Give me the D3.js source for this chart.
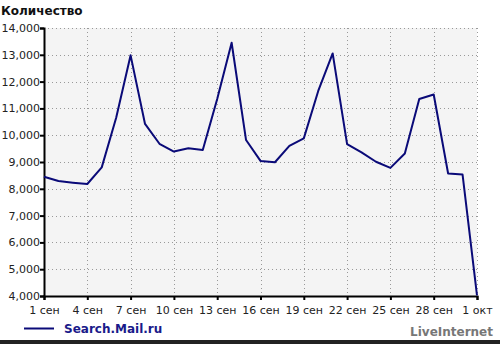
<!DOCTYPE html>
<html>
<head>
<meta charset="utf-8">
<script src="https://cdn.jsdelivr.net/npm/d3@7"></script>
<style>
  body { margin: 0; background: #fff; }
  svg { display: block; font-family: "DejaVu Sans", Verdana, sans-serif; }
</style>
</head>
<body>
<div id="chart"></div>
<script>
// daily values, 1 сен .. 1 окт
const days = d3.range(0, 31);
const values = [8450, 8290, 8230, 8180, 8800, 10650, 12980, 10420, 9680, 9390,
                9510, 9450, 11350, 13450, 9820, 9040, 8990, 9600, 9880, 11650,
                13050, 9670, 9360, 9010, 8780, 9320, 11350, 11520, 8570, 8530, 4020];
const tickDays = [0, 3, 6, 9, 12, 15, 18, 21, 24, 27, 30];
const tickLabels = ['1 сен', '4 сен', '7 сен', '10 сен', '13 сен', '16 сен',
                    '19 сен', '22 сен', '25 сен', '28 сен', '1 окт'];
const yTicks = [4000, 5000, 6000, 7000, 8000, 9000, 10000, 11000, 12000, 13000, 14000];
const seriesName = 'Search.Mail.ru';

const W = 500, H = 344;
const margin = { top: 28, right: 23, bottom: 48, left: 44 };
const width = W - margin.left - margin.right;
const height = H - margin.top - margin.bottom;

const svg = d3.select('#chart').append('svg')
    .attr('width', W)
    .attr('height', H);

// bottom dark border
svg.append('rect')
    .attr('x', 0).attr('y', H - 4).attr('width', W).attr('height', 4)
    .attr('fill', '#222');

svg.append('text')
    .attr('x', 1).attr('y', 15)
    .attr('font-size', 12).attr('font-weight', 'bold')
    .attr('fill', '#111')
    .text('Количество');

const g = svg.append('g')
    .attr('transform', `translate(${margin.left}, ${margin.top})`);

const x = d3.scaleLinear().domain([0, 30]).range([0, width]);
const y = d3.scaleLinear().domain([4000, 14000]).range([height, 0]);

g.append('rect')
    .attr('width', width).attr('height', height)
    .attr('fill', '#f4f4f4');

// dotted grid
g.selectAll('.hgrid')
    .data(yTicks.slice(1))
    .enter().append('line')
    .attr('x1', 0).attr('x2', width)
    .attr('y1', d => Math.round(y(d)) + 0.5).attr('y2', d => Math.round(y(d)) + 0.5)
    .attr('stroke', '#999').attr('stroke-dasharray', '1,3');

g.selectAll('.vgrid')
    .data(tickDays.slice(1))
    .enter().append('line')
    .attr('y1', 0).attr('y2', height)
    .attr('x1', d => Math.round(x(d)) + 0.5).attr('x2', d => Math.round(x(d)) + 0.5)
    .attr('stroke', '#999').attr('stroke-dasharray', '1,3');

// axes
const yAxis = d3.axisLeft(y)
    .tickValues(yTicks)
    .tickSize(4)
    .tickFormat(d3.format(','));

const xAxis = d3.axisBottom(x)
    .tickValues(tickDays)
    .tickSize(4)
    .tickFormat((d, i) => tickLabels[i]);

const ya = g.append('g').call(yAxis);
const xa = g.append('g').attr('transform', `translate(0, ${height})`).call(xAxis);

[ya, xa].forEach(a => {
    a.select('.domain').attr('stroke', '#000').attr('stroke-width', 2);
    a.selectAll('.tick line').attr('stroke', '#000').attr('stroke-width', 2);
    a.selectAll('.tick text').attr('font-size', 11).attr('fill', '#222')
        .attr('font-family', '"DejaVu Sans", Verdana, sans-serif');
});
ya.selectAll('.tick text').attr('x', -4);
xa.selectAll('.tick text').attr('y', 10);

// series line
const line = d3.line()
    .x((d, i) => x(days[i]))
    .y(d => y(d));

g.append('path')
    .datum(values)
    .attr('fill', 'none')
    .attr('stroke', '#0a0a78')
    .attr('stroke-width', 2)
    .attr('stroke-linejoin', 'round')
    .attr('d', line);

// legend
svg.append('line')
    .attr('x1', 24).attr('x2', 54)
    .attr('y1', 328.5).attr('y2', 328.5)
    .attr('stroke', '#0a0a78').attr('stroke-width', 2);

svg.append('text')
    .attr('x', 64).attr('y', 333)
    .attr('font-size', 12).attr('font-weight', 'bold')
    .attr('fill', '#1a1a8a')
    .text(seriesName);

svg.append('text')
    .attr('x', 493).attr('y', 336)
    .attr('text-anchor', 'end')
    .attr('font-size', 12).attr('font-weight', 'bold')
    .attr('fill', '#777')
    .text('LiveInternet');
</script>
</body>
</html>
